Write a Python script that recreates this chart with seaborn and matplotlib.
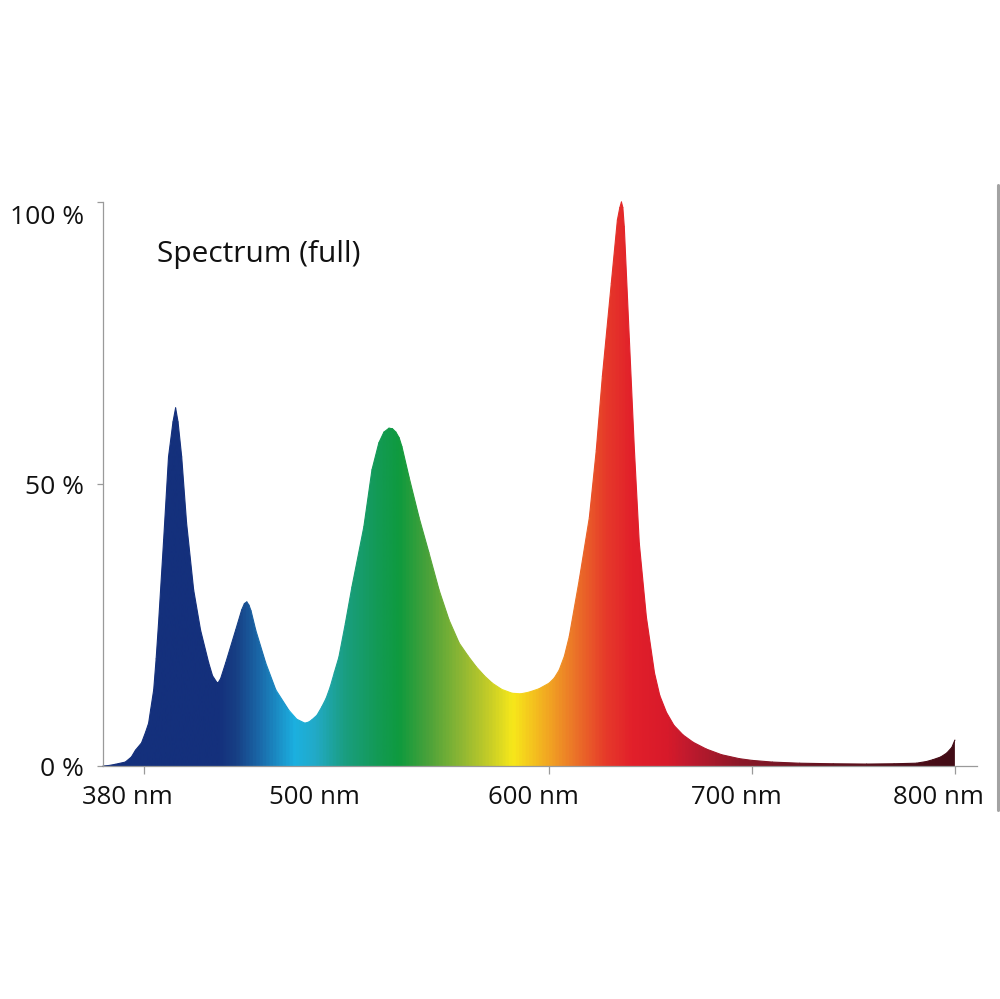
import numpy as np
import matplotlib.pyplot as plt
import matplotlib.transforms as mtransforms
from matplotlib.colors import LinearSegmentedColormap
from matplotlib.collections import LineCollection
from matplotlib.lines import Line2D
import seaborn as sns

# spectrum (nm, % of max)
wavelength = [380, 383, 386, 391, 394, 396, 399, 401, 402.5, 403.5, 405, 406.2,
              407.4, 409.9, 412.3, 414.5, 415.8, 417, 418.8, 421.2, 424.7, 428.1,
              432.1, 434, 436, 437, 438, 440.5, 445.4, 448.4, 449.7, 450.9, 452,
              453, 455.3, 460.2, 465.2, 471.6, 475.5, 479.5, 481.5, 483, 485.5,
              487.9, 490, 492, 494, 496.3, 499.5, 502.7, 508.6, 512.6, 516, 518.5,
              521, 522.7, 524.4, 526, 527.4, 530.9, 535.8, 540.7, 545.7, 550.6,
              555.6, 560, 564, 568, 571.9, 576.5, 581.7, 586, 590.1, 595, 600,
              602.5, 604.9, 607.5, 609.9, 614.8, 619.8, 623.2, 626.2, 630.6, 633.6,
              634.8, 635.6, 636.3, 637, 639.5, 642, 644.4, 647.9, 651.9, 654.5,
              657.8, 661.5, 666, 671, 677.5, 685, 693.8, 700, 710, 723.5, 740,
              756.5, 770, 781, 786, 789, 793, 796, 798.5, 800]
intensity = [0, 0.1, 0.3, 0.7, 1.6, 2.8, 4.1, 6, 7.6, 10, 13.5, 19,
             25.4, 40.1, 54.8, 61, 63.5, 61, 54.8, 43.1, 31.2, 24.1,
             18.3, 16.0, 14.9, 14.9, 15.5, 18.3, 24.1, 27.7, 28.8, 29.1, 28.5,
             27.5, 24.1, 18.3, 13.5, 9.9, 8.3, 7.6, 7.8, 8.2, 9.0,
             10.5, 12, 14, 16.5, 19.3, 25.3, 31.7, 42.4, 52.5, 57.3, 59.2,
             59.9, 59.8, 59.2, 58.2, 56.6, 51.2, 44.1, 37.8, 31.2, 25.9,
             21.8, 19.5, 17.6, 16.0, 14.7, 13.6, 12.9, 12.8, 13.1, 13.7, 14.7,
             15.6, 17, 19.5, 23, 33, 44.1, 56, 69.1, 85.6, 96.8,
             99, 100, 99, 95.6, 75.7, 56, 39.5, 26.4, 16.5, 12.5,
             9.5, 7.2, 5.5, 4.2, 3.0, 2.0, 1.3, 1.0, 0.7, 0.5, 0.4,
             0.35, 0.4, 0.5, 0.8, 1.1, 1.6, 2.3, 3.3, 4.6]

xtick_pos = [400, 492, 600, 700, 800]
xtick_labels = ["380 nm", "500 nm", "600 nm", "700 nm", "800 nm"]
ytick_pos = [0, 50, 100]
ytick_labels = ["0 %", "50 %", "100 %"]

# colour of the fill along the wavelength axis
stop_nm = [380, 436, 445, 457, 474, 484, 499, 515, 526, 540, 556, 570, 582,
           599, 611, 628, 641, 658, 669, 694, 727, 800]
stop_colors = ["#14307c", "#14307c", "#173f84", "#1a6aaa", "#1cb0e0", "#22aac8",
               "#1a9e80", "#139a55", "#0f9a3e", "#4aa23a", "#8cb634", "#c4cc28",
               "#f7e81a", "#f2a822", "#ec7a28", "#e63a2a", "#e2202a", "#d81a2a",
               "#c01a2e", "#8c1828", "#6a1422", "#420c16"]

sns.set_style("white")
plt.rcParams["font.family"] = ["Open Sans", "DejaVu Sans"]

x0, x1 = 380, 810.9
cmap = LinearSegmentedColormap.from_list(
    "spec", [((n - x0) / (800 - x0), c) for n, c in zip(stop_nm, stop_colors)])

fig = plt.figure(figsize=(10, 9.99), dpi=100)
ax = fig.add_axes([0.103, 0.2332, 0.874, 0.5646])

sns.lineplot(x=wavelength, y=intensity, ax=ax, sort=False, linewidth=0)
poly = ax.fill_between(wavelength, intensity, 0, facecolor="none", edgecolor="none")

grad = np.linspace(0, 1, 2000)[np.newaxis, :]
im = ax.imshow(grad, extent=[x0, 800, 0, 100], aspect="auto", cmap=cmap,
               origin="lower", interpolation="bilinear", zorder=2)
im.set_clip_path(poly.get_paths()[0], ax.transData)

# smooth the clipped edge with a line in the same colours
pts = np.column_stack([wavelength, intensity])
segs = np.stack([pts[:-1], pts[1:]], axis=1)
mids = (pts[:-1, 0] + pts[1:, 0]) / 2
edge = LineCollection(segs, colors=cmap((mids - x0) / (800 - x0)),
                      linewidths=0.8, zorder=3, clip_on=False,
                      capstyle="round", joinstyle="round")
ax.add_collection(edge)

ax.set_xlim(x0, x1)
ax.set_ylim(0, 100)

for side in ["top", "right"]:
    ax.spines[side].set_visible(False)
for side in ["left", "bottom"]:
    ax.spines[side].set_color("#9a9a9a")
    ax.spines[side].set_linewidth(0.9)
    ax.spines[side].set_zorder(4)

ax.set_xticks(xtick_pos)
ax.set_xticklabels(xtick_labels, fontsize=18.5)
ax.set_yticks(ytick_pos)
ax.set_yticklabels(ytick_labels, fontsize=19)
ax.tick_params(axis="x", bottom=True, direction="out", length=6, width=0.9,
               color="#9a9a9a", pad=7.5, labelcolor="#111111")
ax.tick_params(axis="y", left=True, direction="out", length=4.5, width=0.9,
               color="#9a9a9a", pad=9, labelcolor="#111111")
ax.xaxis.get_major_ticks()[1].tick1line.set_visible(False)

shift = mtransforms.ScaledTranslation(-0.16, 0, fig.dpi_scale_trans)
for lbl in ax.get_xticklabels():
    lbl.set_transform(lbl.get_transform() + shift)
down = mtransforms.ScaledTranslation(0, -0.13, fig.dpi_scale_trans)
top_lbl = ax.get_yticklabels()[2]
top_lbl.set_transform(top_lbl.get_transform() + down)

fig.text(0.157, 1 - 262 / 999, "Spectrum (full)", fontsize=21.5, color="#111111",
         va="baseline", ha="left")

fig.add_artist(Line2D([0.9975, 0.9975], [1 - 185 / 999, 1 - 810 / 999],
                      color="#a3a3a3", linewidth=2.2))

fig.savefig("out.png", dpi=100, facecolor="white")
